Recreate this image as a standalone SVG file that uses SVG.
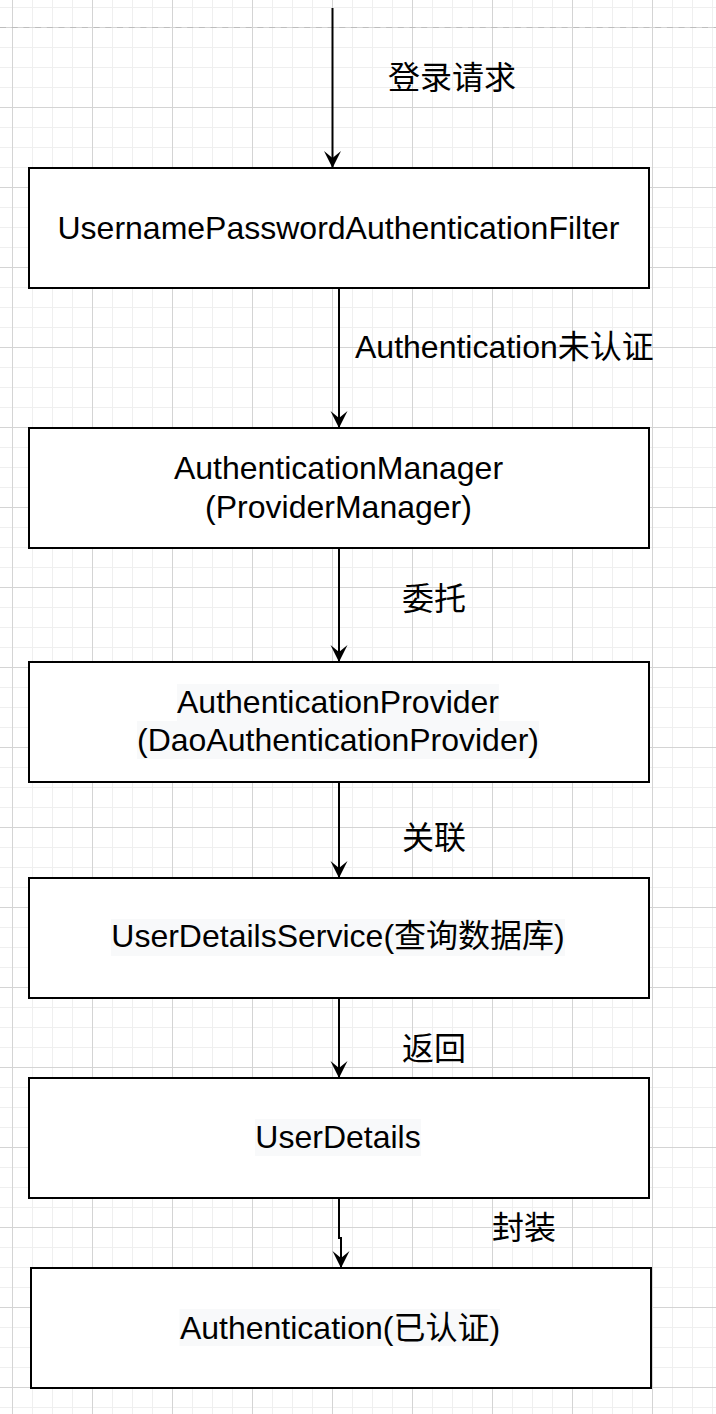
<svg xmlns="http://www.w3.org/2000/svg" width="716" height="1414" viewBox="0 0 716 1414">
<style>
.box{fill:#ffffff;stroke:#000000;stroke-width:2}
.txt{font-family:"Liberation Sans","Noto Sans CJK SC",sans-serif;font-size:32px;fill:#000000;text-anchor:middle}
.lbl{font-family:"Liberation Sans","Noto Sans CJK SC",sans-serif;font-size:32px;fill:#000000}
.hl{fill:#f8f9fa}
.conn{fill:none;stroke:#000000;stroke-width:2}
</style>
<defs>
<pattern id="grid" patternUnits="userSpaceOnUse" x="12" y="27" width="80" height="80">
<rect width="80" height="80" fill="#ffffff"/>
<path d="M20.5,0V80M40.5,0V80M60.5,0V80M0,20.5H80M0,40.5H80M0,60.5H80" stroke="#efefef" stroke-width="1"/>
<path d="M0.5,0V80M0,0.5H80" stroke="#d4d4d4" stroke-width="1"/>
</pattern>
<marker id="arr" markerUnits="userSpaceOnUse" markerWidth="20" markerHeight="20" viewBox="0 -10 18 20" refX="17" refY="0" orient="auto">
<path d="M17,0 L0,-8.5 L7,0 L0,8.5 Z" fill="#000000"/>
</marker>
</defs>
<rect x="0" y="0" width="716" height="1414" fill="url(#grid)"/>
<line x1="0" y1="27.5" x2="716" y2="27.5" stroke="#bdbdbd" stroke-width="1" stroke-dasharray="6,5.7"/>

<g id="connectors">
<path class="conn" d="M332.5,8 L332.5,168" marker-end="url(#arr)"/>
<path class="conn" d="M339,288 L339,428" marker-end="url(#arr)"/>
<path class="conn" d="M339,548 L339,662" marker-end="url(#arr)"/>
<path class="conn" d="M339,782 L339,878" marker-end="url(#arr)"/>
<path class="conn" d="M339,998 L339,1078" marker-end="url(#arr)"/>
<path class="conn" d="M339,1198 L339,1238 L341,1238 L341,1268" marker-end="url(#arr)"/>
<text class="lbl" x="388" y="89">登录请求</text>
<text class="lbl" x="355" y="358">Authentication未认证</text>
<text class="lbl" x="402" y="610">委托</text>
<text class="lbl" x="402" y="849">关联</text>
<text class="lbl" x="402" y="1060">返回</text>
<text class="lbl" x="492" y="1239">封装</text>
</g>

<g id="node-filter">
<rect class="box" x="29" y="168" width="620" height="120"/>
<text class="txt" x="338.5" y="239">UsernamePasswordAuthenticationFilter</text>
</g>

<g id="node-manager">
<rect class="box" x="29" y="428" width="620" height="120"/>
<text class="txt" x="338.5" y="479">AuthenticationManager</text>
<text class="txt" x="338.5" y="517.5">(ProviderManager)</text>
</g>

<g id="node-provider">
<rect class="box" x="29" y="662" width="620" height="120"/>
<rect class="hl" x="177" y="684" width="322" height="37"/>
<rect class="hl" x="137" y="721" width="402" height="38"/>
<text class="txt" x="338" y="713">AuthenticationProvider</text>
<text class="txt" x="338" y="750.5">(DaoAuthenticationProvider)</text>
</g>

<g id="node-uds">
<rect class="box" x="29" y="878" width="620" height="120"/>
<rect class="hl" x="111" y="919" width="454" height="37"/>
<text class="txt" x="338" y="947">UserDetailsService(查询数据库)</text>
</g>

<g id="node-userdetails">
<rect class="box" x="29" y="1078" width="620" height="120"/>
<rect class="hl" x="255" y="1119" width="166" height="37"/>
<text class="txt" x="338" y="1148">UserDetails</text>
</g>

<g id="node-auth">
<rect class="box" x="31" y="1268" width="620" height="120"/>
<rect class="hl" x="179.5" y="1309" width="320.5" height="37"/>
<text class="txt" x="340" y="1339">Authentication(已认证)</text>
</g>
</svg>
